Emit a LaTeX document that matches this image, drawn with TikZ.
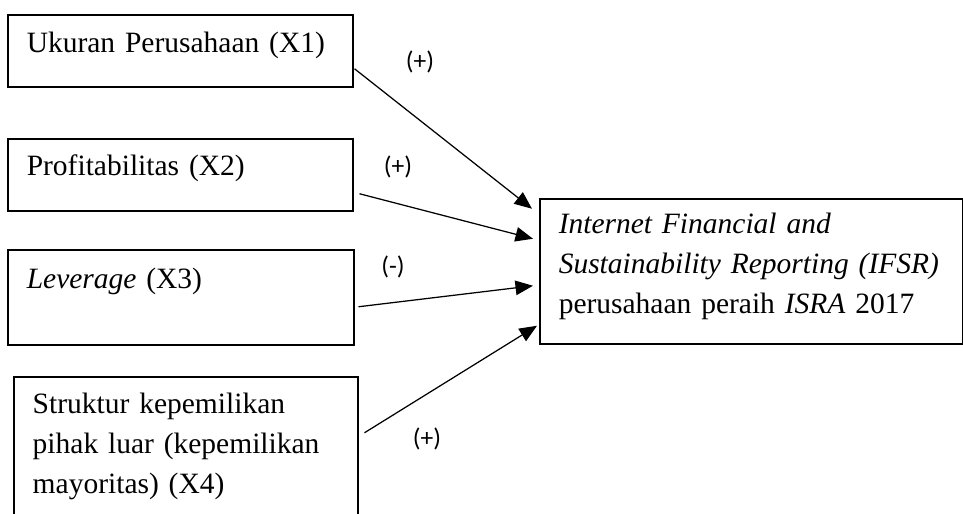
\documentclass[tikz,border=0pt]{standalone}
\usepackage{fontspec}
\setmainfont{Liberation Serif}
\newfontfamily\signfont{Carlito}
\usetikzlibrary{arrows.meta}

\tikzset{
    varbox/.style={draw, line width=0.6pt, anchor=north west, inner xsep=7.6pt, inner ysep=0pt, align=left, font=\fontsize{11.8}{16}\selectfont},
    sign/.style={font=\signfont\fontsize{10.2}{12}\selectfont, inner sep=0pt},
    effect/.style={-{Triangle[length=7pt, width=5.8pt]}, line width=0.5pt},
}

\begin{document}
\begin{tikzpicture}[x=0.4pt, y=-0.4pt]
    \clip (0,0) rectangle (963,514);

    % independent variables
    \node[varbox, text width=122.8pt, text height=15.2pt, text depth=13.6pt] (x1) at (7,14) {Ukuran Perusahaan (X1)};
    \node[varbox, text width=122.8pt, text height=14.8pt, text depth=14pt] (x2) at (7,138) {Profitabilitas (X2)};
    \node[varbox, text width=123.2pt, text height=15.6pt, text depth=22.4pt] (x3) at (7,249) {\textit{Leverage} (X3)};
    \node[varbox, text width=122.4pt, text height=14.8pt, text depth=46.8pt] (x4) at (13,376) {\mbox{Struktur kepemilikan}\\\mbox{pihak luar (kepemilikan}\\\mbox{mayoritas) (X4)}};

    % dependent variable
    \node[varbox, text width=154pt, text height=14pt, text depth=44pt] (y) at (539,198) {\mbox{\textit{Internet Financial and}}\\\mbox{\textit{Sustainability Reporting (IFSR)}}\\\mbox{perusahaan peraih \textit{ISRA} 2017}};

    \draw[effect] ([shift={(1,18)}]x1.east) -- ([shift={(-7,-62.5)}]y.west);
    \draw[effect] ([shift={(6,19)}]x2.east) -- ([shift={(-6,-32.5)}]y.west);
    \draw[effect] ([shift={(4,9.5)}]x3.east) -- ([shift={(-6,14.5)}]y.west);
    \draw[effect] ([shift={(6,-21)}]x4.east) -- ([shift={(-2,54.5)}]y.west);

    % signs of the effects
    \node[sign] (s1) at (420,62) {(+)};
    \node[sign] (s2) at (398,167) {(+)};
    \node[sign] (s3) at (393,267) {(-)};
    \node[sign] (s4) at (427,439) {(+)};
\end{tikzpicture}
\end{document}
